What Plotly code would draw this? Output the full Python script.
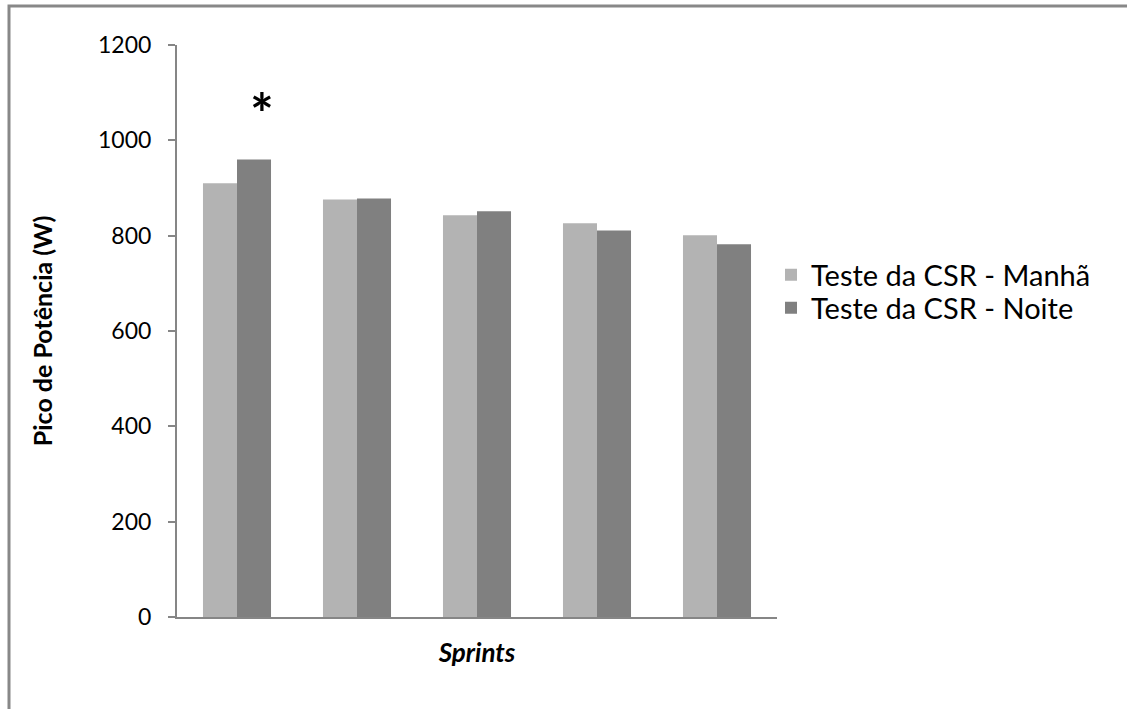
import plotly.graph_objects as go

# ---- data ----
sprints = ["S1", "S2", "S3", "S4", "S5"]
manha = [910, 876, 843, 826, 801]
noite = [960, 878, 851, 811, 782]
series_names = ["Teste da CSR - Manhã", "Teste da CSR - Noite"]
y_ticks = [0, 200, 400, 600, 800, 1000, 1200]

W, H = 1127, 709
ML, MR, MT, MB = 177, 350, 45, 92
FONT = "Lato, Open Sans, sans-serif"

fig = go.Figure()
fig.add_trace(go.Bar(x=sprints, y=manha, name=series_names[0], legend="legend",
                     marker=dict(color="#B3B3B3", line=dict(width=0))))
fig.add_trace(go.Bar(x=sprints, y=noite, name=series_names[1], legend="legend2",
                     marker=dict(color="#808080", line=dict(width=0))))

pw = W - ML - MR
ph = H - MT - MB
# outer frame (gray border of the original figure)
fig.add_shape(type="rect", xref="paper", yref="paper",
              x0=(9 - ML) / pw, x1=(1200 - ML) / pw,
              y0=(H - 760 - MB) / ph, y1=(H - 6 - MB) / ph,
              line=dict(color="#888888", width=3), fillcolor="rgba(0,0,0,0)")

# significance asterisk over the first evening bar
fig.add_annotation(x=sprints[0], y=noite[0], text="<b>*</b>", showarrow=False,
                   xshift=25, yshift=47, yanchor="middle",
                   font=dict(family=FONT, size=56, color="black"))

leg_common = dict(xanchor="left", yanchor="middle", itemwidth=30,
                  font=dict(family=FONT, size=29, color="black"),
                  bgcolor="rgba(0,0,0,0)")

fig.update_layout(
    width=W, height=H,
    margin=dict(l=ML, r=MR, t=MT, b=MB),
    paper_bgcolor="white", plot_bgcolor="white",
    barmode="group", bargap=0.433, bargroupgap=0,
    font=dict(family=FONT, size=23, color="black"),
    showlegend=True,
    legend=dict(x=0.99, y=(617 - 275) / 572, **leg_common),
    legend2=dict(x=0.99, y=(617 - 308) / 572, **leg_common),
    xaxis=dict(type="category", showticklabels=False, ticks="", showline=True,
               linecolor="#868686", linewidth=2, showgrid=False,
               title=dict(text="<b><i>Sprints</i></b>", standoff=26,
                          font=dict(family=FONT, size=26))),
    yaxis=dict(range=[0, 1200], tickvals=y_ticks, ticks="outside",
               ticklen=7, tickcolor="#868686", tickwidth=2,
               showline=True, linecolor="#868686", linewidth=2,
               showgrid=False, zeroline=False, ticklabelstandoff=12,
               tickfont=dict(family=FONT, size=23),
               title=dict(text="<b>Pico de Potência (W)</b>", standoff=38,
                          font=dict(family=FONT, size=25))),
)

fig.write_html("out.html", config={"displayModeBar": False},
               post_script="document.body.style.margin='0';")
